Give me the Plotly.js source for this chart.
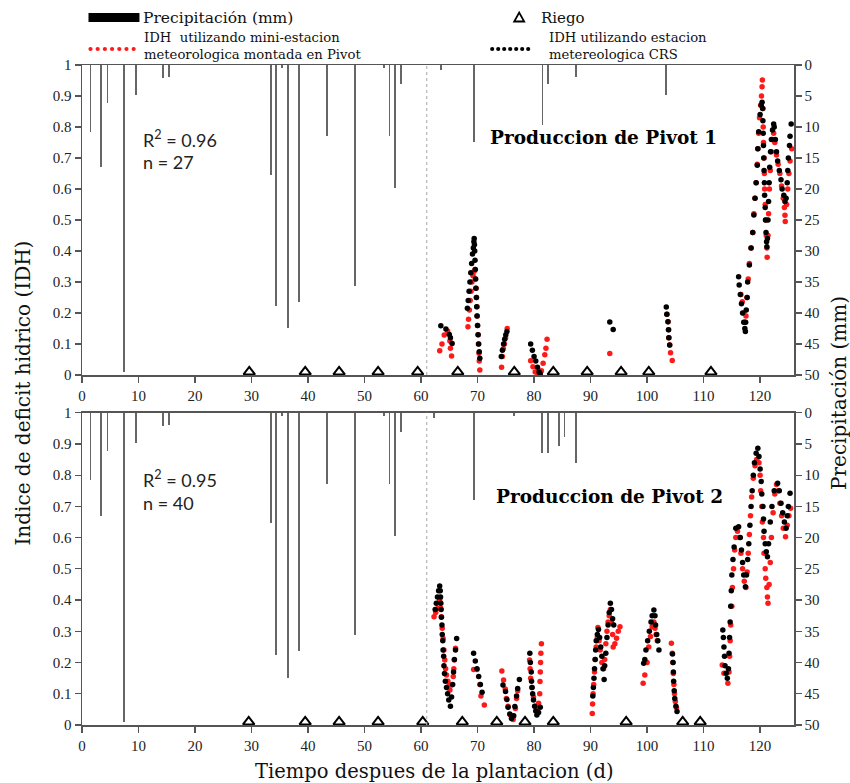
<!DOCTYPE html>
<html>
<head>
<meta charset="utf-8">
<script src="https://cdn.plot.ly/plotly-3.0.1.min.js"></script>
<style>html,body{margin:0;padding:0;background:#fff;}#chart{width:850px;height:783px;}</style>
</head>
<body>
<div id="chart"></div>
<script>
// ---------------- DATA ----------------
const precipDays1 = [1.5,3.4,4.5,7.4,9.5,14.3,15.4,33.4,34.4,35.4,36.4,38.4,43.3,48.3,53.4,54.4,55.4,56.4,63.5,69.4,81.5,82.4,87.4,103.4];
const precipMm1   = [10.8,16.5,6.1,49.5,4.8,2.1,1.9,17.7,38.8,0.5,42.4,38.2,11.4,35.6,0.5,11.4,19.8,3.1,0.8,12.4,9.6,3.0,2.0,4.8];
const precipDays2 = [1.5,3.4,4.5,7.4,9.5,14.3,15.4,33.4,34.4,35.4,36.4,38.4,43.3,48.3,53.4,54.4,55.4,56.4,62.3,69.3,76.4,81.4,82.4,84.4,85.4,87.4];
const precipMm2   = [10.8,16.5,6.1,49.5,4.8,2.1,1.9,17.7,38.8,0.5,42.4,38.2,11.4,35.6,0.5,11.4,19.8,3.1,0.9,13.9,0.5,6.4,6.4,5.4,3.9,8.0];

const riegoDays1 = [29.6,39.5,45.5,52.4,59.4,66.5,76.5,83.4,89.4,95.4,100.3,111.3];
const riegoDays2 = [29.5,39.5,45.5,52.4,60.3,67.3,73.4,78.4,83.4,96.3,106.3,109.4];

// Pivot 1 - IDH mini-estacion (red)
const p1MiniX = [63.3,63.7,64.1,64.7,65.1,65.2,65.4,
  68.3,68.4,68.55,68.7,68.85,69.0,69.2,69.4,69.55,69.65,69.75,69.8,69.9,69.95,70.0,70.1,70.15,70.25,70.3,70.4,
  74.25,74.4,74.55,74.75,74.95,75.25,
  79.4,79.8,80.2,80.7,81.3,81.6,81.9,82.1,82.3,
  93.4,
  103.5,103.7,103.8,103.85,104.0,104.15,104.45,
  116.6,116.85,117.1,117.3,117.5,117.7,117.9,118.1,118.4,118.7,118.9,119.1,119.3,119.5,119.6,119.75,119.9,120.1,120.25,120.35,120.4,
  120.5,120.55,120.6,120.7,120.75,120.8,120.9,121.0,121.1,121.2,121.25,
  121.4,121.5,121.65,121.8,122.0,122.2,122.4,
  122.6,122.9,123.2,123.5,123.8,124.1,124.3,124.4,124.45,
  124.7,124.9,125.1,125.3,125.6];
const p1MiniY = [0.078,0.10,0.129,0.142,0.11,0.086,0.061,
  0.156,0.18,0.21,0.24,0.27,0.30,0.32,0.335,0.34,0.31,0.28,0.25,0.22,0.19,0.16,0.13,0.10,0.07,0.045,0.016,
  0.025,0.06,0.085,0.10,0.12,0.15,
  0.046,0.027,0.01,0.003,0.014,0.038,0.065,0.086,0.115,
  0.069,
  0.196,0.172,0.146,0.12,0.097,0.072,0.047,
  0.26,0.236,0.20,0.17,0.19,0.25,0.31,0.36,0.41,0.46,0.52,0.57,0.62,0.68,0.73,0.78,0.83,0.87,0.90,0.93,0.952,
  0.86,0.80,0.75,0.70,0.65,0.60,0.55,0.50,0.45,0.41,0.38,
  0.45,0.52,0.60,0.66,0.72,0.76,0.78,
  0.75,0.71,0.68,0.65,0.61,0.57,0.54,0.515,0.495,
  0.55,0.60,0.65,0.69,0.73];

// Pivot 1 - IDH estacion CRS (black)
const p1CrsX = [63.5,64.4,65.0,65.2,65.5,
  68.2,68.35,68.5,68.65,68.8,68.95,69.1,69.25,69.35,69.4,69.45,69.5,69.55,69.6,69.65,69.7,69.8,69.85,69.9,70.0,70.1,70.2,70.3,70.4,
  74.2,74.4,74.6,74.8,75.0,75.2,
  79.4,79.7,80.0,80.3,80.6,80.9,81.1,
  93.4,94.0,
  103.4,103.5,103.7,103.8,103.85,104.0,
  116.2,116.3,116.5,116.7,116.9,117.1,117.3,117.4,117.45,117.55,117.7,117.8,118.1,118.4,118.7,118.9,119.1,119.3,119.5,119.6,119.75,120.0,120.2,120.35,
  120.45,120.5,120.55,120.6,120.65,120.7,120.75,120.8,120.9,120.95,121.05,121.15,121.2,
  121.3,121.4,121.5,121.6,121.7,121.85,122.0,122.2,122.4,
  122.5,122.7,122.9,123.1,123.4,123.7,123.9,124.2,124.4,
  124.6,124.8,124.9,125.0,125.2,125.3,125.5];
const p1CrsY = [0.159,0.148,0.131,0.12,0.102,
  0.215,0.24,0.27,0.30,0.33,0.36,0.39,0.41,0.43,0.44,0.42,0.40,0.37,0.34,0.31,0.28,0.25,0.22,0.19,0.16,0.13,0.10,0.075,0.054,
  0.06,0.08,0.10,0.115,0.13,0.14,
  0.10,0.08,0.06,0.045,0.025,0.01,0.003,
  0.171,0.147,
  0.219,0.196,0.172,0.146,0.12,0.097,
  0.317,0.29,0.26,0.23,0.20,0.17,0.15,0.14,0.17,0.21,0.25,0.30,0.355,0.41,0.46,0.516,0.57,0.62,0.677,0.73,0.785,0.84,0.87,0.88,
  0.86,0.82,0.78,0.74,0.70,0.66,0.62,0.58,0.54,0.50,0.46,0.43,0.414,
  0.44,0.50,0.56,0.62,0.67,0.72,0.76,0.79,0.81,
  0.80,0.76,0.72,0.69,0.66,0.63,0.60,0.58,0.56,
  0.57,0.62,0.66,0.70,0.74,0.77,0.81];

// Pivot 2 - IDH mini-estacion (red)
const p2MiniX = [62.3,62.6,63.0,63.3,63.45,63.6,63.75,63.9,64.05,64.2,64.35,64.5,64.75,65.0,65.1,65.4,65.7,65.8,65.9,66.1,
  69.3,69.9,70.4,70.6,71.2,
  74.3,74.6,74.9,75.1,75.4,75.8,76.3,76.7,76.9,77.1,
  79.2,79.3,79.4,79.6,79.9,80.2,80.5,80.8,81.0,81.05,81.1,81.15,81.2,81.3,
  90.3,90.35,90.45,90.55,90.7,90.85,91.0,91.2,91.3,91.5,91.7,92.0,92.3,92.5,92.7,92.9,93.1,93.3,93.5,93.7,93.9,94.0,94.3,94.6,94.9,95.2,
  99.3,99.6,100.0,100.3,100.6,100.9,101.2,101.4,101.6,101.8,
  104.3,104.45,104.55,104.65,104.75,104.85,105.0,105.2,
  113.3,113.6,114.3,114.5,114.6,114.7,114.8,115.0,115.1,115.3,115.5,115.7,116.0,116.3,116.6,116.9,117.2,117.5,117.7,117.9,118.1,118.3,118.5,118.8,119.1,119.4,119.8,
  120.0,120.1,120.3,120.4,120.6,120.7,120.9,121.0,121.2,121.3,121.4,
  121.6,121.8,122.0,122.3,122.6,122.9,123.2,123.5,123.8,124.1,124.5,124.8,125.1,125.4];
const p2MiniY = [0.347,0.36,0.374,0.40,0.375,0.347,0.31,0.277,0.24,0.208,0.18,0.16,0.14,0.128,0.112,0.128,0.155,0.18,0.208,0.246,
  0.178,0.178,0.13,0.093,0.064,
  0.173,0.144,0.115,0.085,0.06,0.032,0.018,0.053,0.085,0.11,
  0.208,0.18,0.15,0.12,0.09,0.06,0.048,0.07,0.10,0.139,0.17,0.20,0.23,0.26,
  0.037,0.067,0.10,0.13,0.17,0.21,0.25,0.28,0.312,0.27,0.24,0.20,0.18,0.21,0.26,0.30,0.33,0.35,0.37,0.33,0.29,0.25,0.26,0.278,0.30,0.315,
  0.134,0.16,0.2,0.25,0.283,0.315,0.33,0.31,0.29,0.27,
  0.262,0.23,0.20,0.165,0.13,0.10,0.075,0.055,
  0.192,0.166,0.134,0.17,0.22,0.27,0.32,0.38,0.44,0.50,0.56,0.60,0.62,0.60,0.55,0.50,0.46,0.44,0.49,0.55,0.61,0.67,0.73,0.79,0.83,0.85,0.84,
  0.80,0.75,0.70,0.65,0.60,0.55,0.50,0.47,0.44,0.41,0.39,
  0.45,0.52,0.60,0.68,0.74,0.77,0.75,0.71,0.67,0.63,0.603,0.64,0.67,0.694];

// Pivot 2 - IDH estacion CRS (black)
const p2CrsX = [62.5,62.7,62.9,63.1,63.3,63.4,63.45,63.5,63.55,63.6,63.7,63.75,63.85,63.9,64.0,64.05,64.15,64.3,64.5,64.7,64.9,65.2,65.4,65.6,65.75,65.9,66.1,66.3,
  69.3,69.6,69.9,70.2,70.5,70.8,
  74.5,74.95,75.2,75.4,75.7,76.0,76.4,76.6,76.9,77.1,77.4,
  79.25,79.35,79.5,79.55,79.65,79.75,79.9,80.1,80.3,80.5,80.8,81.1,
  90.4,90.5,90.6,90.7,90.8,90.9,91.0,91.2,91.4,91.6,91.8,92.0,92.2,92.4,92.5,92.7,92.9,93.1,93.3,93.5,93.7,93.9,94.1,
  99.4,99.6,99.8,100.1,100.4,100.7,100.9,101.2,101.4,101.5,101.7,101.9,102.1,
  104.5,104.6,104.65,104.7,104.8,104.9,105.1,105.3,
  113.4,113.5,113.6,113.7,113.8,114.0,114.2,114.4,114.5,114.6,114.7,114.8,114.9,115.0,115.2,115.4,115.7,116.2,116.5,116.7,116.9,117.1,117.4,
  117.6,117.8,118.0,118.2,118.4,118.6,118.8,119.0,119.3,119.6,119.8,120.0,120.2,120.3,120.5,120.6,120.7,120.9,121.1,121.3,
  121.5,121.8,122.1,122.5,123.1,123.4,123.7,124.0,124.3,124.6,124.8,125.0,125.3];
const p2CrsY = [0.37,0.39,0.41,0.43,0.445,0.43,0.41,0.39,0.37,0.345,0.32,0.29,0.27,0.24,0.22,0.19,0.165,0.14,0.12,0.10,0.08,0.06,0.09,0.13,0.17,0.21,0.24,0.277,
  0.23,0.205,0.18,0.155,0.13,0.105,
  0.128,0.107,0.082,0.057,0.035,0.021,0.03,0.059,0.093,0.117,0.146,
  0.23,0.20,0.17,0.14,0.12,0.10,0.08,0.06,0.045,0.032,0.04,0.057,
  0.093,0.12,0.15,0.18,0.21,0.24,0.27,0.29,0.306,0.28,0.25,0.22,0.18,0.146,0.19,0.23,0.28,0.32,0.36,0.39,0.37,0.34,0.32,
  0.198,0.21,0.24,0.27,0.30,0.33,0.35,0.368,0.35,0.32,0.29,0.27,0.24,
  0.227,0.20,0.17,0.14,0.11,0.085,0.06,0.043,
  0.304,0.28,0.25,0.22,0.19,0.166,0.15,0.18,0.23,0.28,0.33,0.38,0.43,0.48,0.53,0.57,0.63,0.635,0.60,0.56,0.52,0.48,0.443,
  0.48,0.53,0.58,0.64,0.70,0.75,0.80,0.84,0.87,0.886,0.86,0.82,0.78,0.74,0.70,0.66,0.62,0.58,0.555,0.539,
  0.58,0.65,0.70,0.75,0.774,0.75,0.71,0.68,0.65,0.63,0.67,0.70,0.742];

// ---------------- LAYOUT HELPERS ----------------
const L = 81.5, R = 794, T = 65, B = 725;
const PX = p => (p - L) / (R - L);
const PY = p => (B - p) / (B - T);
const serif = 'DejaVu Serif';
const tickFont = {family: 'Liberation Serif', size: 15, color: '#222'};
const axisCol = '#555';
const RED = '#ff1a1a', BLACK = '#000000';
const dotSize = 5.5;
const riegoOffset = 0.01;

function precipTrace(x, y, ya){
  return {type:'bar', x:x, y:y, xaxis: ya==='y2'?'x':'x2', yaxis: ya, width:0.32,
    marker:{color:'#666666', line:{width:0}}, showlegend:false, hoverinfo:'x+y'};
}
function dotTrace(x, y, xa, ya, col){
  return {type:'scatter', mode:'markers', x:x, y:y, xaxis:xa, yaxis:ya,
    marker:{size:dotSize, color:col}, showlegend:false, cliponaxis:false};
}
function riegoTrace(x, xa, ya){
  return {type:'scatter', mode:'markers', x:x, y:x.map(() => riegoOffset), xaxis:xa, yaxis:ya,
    marker:{symbol:'triangle-up-open', size:10, color:BLACK, line:{width:2, color:BLACK}},
    showlegend:false, cliponaxis:false};
}

const data = [
  precipTrace(precipDays1, precipMm1, 'y2'),
  precipTrace(precipDays2, precipMm2, 'y4'),
  dotTrace(p1MiniX, p1MiniY, 'x', 'y', RED),
  dotTrace(p1CrsX, p1CrsY, 'x', 'y', BLACK),
  dotTrace(p2MiniX, p2MiniY, 'x2', 'y3', RED),
  dotTrace(p2CrsX, p2CrsY, 'x2', 'y3', BLACK),
  riegoTrace(riegoDays1, 'x', 'y'),
  riegoTrace(riegoDays2, 'x2', 'y3')
];

const topDom = [PY(375), 1];
const botDom = [0, PY(412.7)];

function xAx(anchor){
  return {anchor:anchor, domain:[0,1], range:[0,126], dtick:10, tick0:0, showgrid:false, zeroline:false,
    showline:true, linecolor:axisCol, linewidth:1.5, mirror:true, ticks:'outside', ticklen:6, tickwidth:1.2,
    tickcolor:axisCol, tickfont:tickFont, fixedrange:true};
}
function yLeft(anchor, dom){
  return {anchor:anchor, domain:dom, range:[0,1], dtick:0.1, tick0:0, showgrid:false, zeroline:false,
    showline:true, linecolor:axisCol, linewidth:1.5, ticks:'outside', ticklen:6, tickwidth:1.2,
    tickcolor:axisCol, tickfont:tickFont};
}
function yRight(anchor, over){
  return {anchor:anchor, overlaying:over, side:'right', range:[50,0], dtick:5, tick0:0, showgrid:false, zeroline:false,
    showline:true, linecolor:axisCol, linewidth:1.5, ticks:'outside', ticklen:6, tickwidth:1.2,
    tickcolor:axisCol, tickfont:tickFont};
}

const shapes = [
  {type:'line', xref:'x', yref:'y domain', x0:61, x1:61, y0:0, y1:1, line:{color:'#b5b5b5', width:1.2, dash:'dot'}},
  {type:'line', xref:'x2', yref:'y3 domain', x0:61, x1:61, y0:0, y1:1, line:{color:'#b5b5b5', width:1.2, dash:'dot'}},
  // legend: precipitation bar
  {type:'rect', xref:'paper', yref:'paper', x0:PX(88), x1:PX(139), y0:PY(22), y1:PY(13), fillcolor:'#000', line:{width:0}},
  // legend: riego triangle
  {type:'path', xref:'paper', yref:'paper',
    path:'M'+PX(514)+','+PY(21.5)+' L'+PX(524)+','+PY(21.5)+' L'+PX(519)+','+PY(12.5)+' Z',
    line:{color:'#000', width:1.8}, fillcolor:'rgba(0,0,0,0)'}
];
for (let i = 0; i < 7; i++){
  const cxr = 90 + i*7.2, cxb = 492 + i*6.0;
  shapes.push({type:'circle', xref:'paper', yref:'paper', xsizemode:'pixel', ysizemode:'pixel',
    xanchor:PX(cxr), yanchor:PY(49), x0:-2.1, x1:2.1, y0:-2.1, y1:2.1, fillcolor:RED, line:{width:0}});
  shapes.push({type:'circle', xref:'paper', yref:'paper', xsizemode:'pixel', ysizemode:'pixel',
    xanchor:PX(cxb), yanchor:PY(49), x0:-2.1, x1:2.1, y0:-2.1, y1:2.1, fillcolor:BLACK, line:{width:0}});
}

function ann(text, px, py, opts){
  return Object.assign({text:text, xref:'paper', yref:'paper', x:PX(px), y:PY(py), showarrow:false,
    xanchor:'left', yanchor:'middle', font:{family:serif, size:14, color:'#111'}}, opts||{});
}
const sansFont = {family:'Lato', size:18, color:'#222'};
const annotations = [
  ann('Precipitación (mm)', 141, 18, {font:{family:serif, size:15.5, color:'#111'}}),
  ann('Riego', 539, 18, {font:{family:serif, size:15, color:'#111'}}),
  ann('IDH  utilizando mini-estacion<br>meteorologica montada en Pivot', 142, 45.5, {align:'left', font:{family:serif, size:13.2, color:'#111'}}),
  ann('IDH utilizando estacion<br>metereologica CRS', 547, 45.5, {align:'left', font:{family:serif, size:13.2, color:'#111'}}),
  ann('R<sup>2</sup> = 0.96', 141, 139, {font:sansFont}),
  ann('n = 27', 141, 162, {font:sansFont}),
  ann('Produccion de Pivot 1', 603, 137, {xanchor:'center', font:{family:serif, size:18.5, color:'#000', weight:'bold'}}),
  ann('R<sup>2</sup> = 0.95', 141, 479, {font:sansFont}),
  ann('n = 40', 141, 503, {font:sansFont}),
  ann('Produccion de Pivot 2', 609, 496, {xanchor:'center', font:{family:serif, size:18.5, color:'#000', weight:'bold'}}),
  ann('Indice de deficit hidrico (IDH)', 22, 393, {xanchor:'center', textangle:-90, font:{family:serif, size:20, color:'#111'}}),
  ann('Precipitación (mm)', 839, 393, {xanchor:'center', textangle:-90, font:{family:serif, size:20, color:'#111'}}),
  ann('Tiempo despues de la plantacion (d)', 434, 771, {xanchor:'center', font:{family:serif, size:19.5, color:'#111'}})
];

const layout = {
  width:850, height:783,
  margin:{l:L, r:850-R, t:T, b:783-B, pad:0},
  paper_bgcolor:'#ffffff', plot_bgcolor:'rgba(0,0,0,0)',
  showlegend:false,
  bargap:0,
  xaxis: xAx('y'),
  yaxis: yLeft('x', topDom),
  yaxis2: yRight('x', 'y'),
  xaxis2: xAx('y3'),
  yaxis3: yLeft('x2', botDom),
  yaxis4: yRight('x2', 'y3'),
  shapes: shapes,
  annotations: annotations
};

Plotly.newPlot('chart', data, layout, {displayModeBar:false, staticPlot:true});
</script>
</body>
</html>
